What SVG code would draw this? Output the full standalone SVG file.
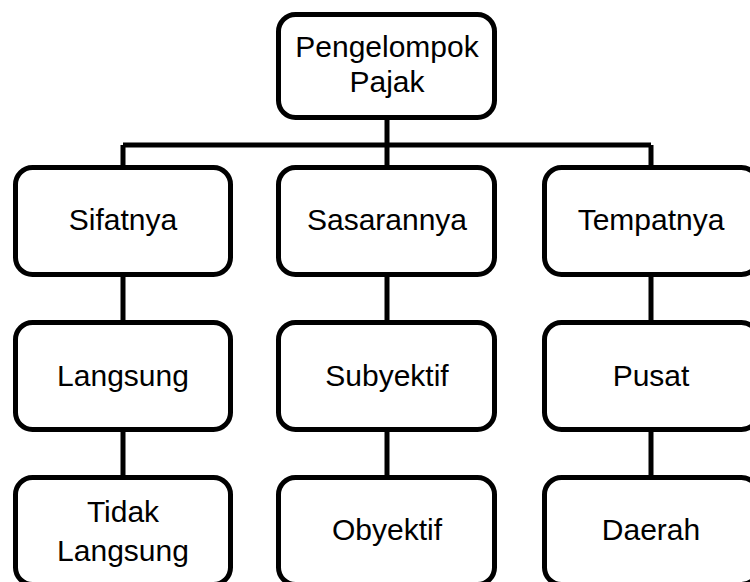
<svg xmlns="http://www.w3.org/2000/svg" width="750" height="582" viewBox="0 0 750 582">
<style>
.box{fill:#fff;stroke:#000;stroke-width:5}
.lbl{font-family:"Liberation Sans",Arial,sans-serif;font-size:30px;fill:#000;text-anchor:middle}
.conn{stroke:#000;stroke-width:5;fill:none;stroke-linecap:butt}
</style>
<rect width="750" height="582" fill="#fff"/>
<g id="connectors">
<path class="conn" d="M387 118 V145 M123 145 H651 M123 145 V168 M387 145 V168 M651 145 V168"/>
<path class="conn" d="M123 274 V323 M387 274 V323 M651 274 V323"/>
<path class="conn" d="M123 429 V478 M387 429 V478 M651 429 V478"/>
</g>
<g id="n-root"><rect class="box" x="278.5" y="14.5" width="216" height="103" rx="17"/><text class="lbl" x="387" y="57">Pengelompok</text><text class="lbl" x="387" y="92">Pajak</text></g>
<g id="n-sifat"><rect class="box" x="15.5" y="167.5" width="215" height="107" rx="17"/><text class="lbl" x="123" y="230">Sifatnya</text></g>
<g id="n-sasaran"><rect class="box" x="278.5" y="167.5" width="216" height="107" rx="17"/><text class="lbl" x="387" y="230">Sasarannya</text></g>
<g id="n-tempat"><rect class="box" x="544.5" y="167.5" width="214" height="107" rx="17"/><text class="lbl" x="651" y="230">Tempatnya</text></g>
<g id="n-langsung"><rect class="box" x="15.5" y="322.5" width="215" height="107" rx="17"/><text class="lbl" x="123" y="386">Langsung</text></g>
<g id="n-subyektif"><rect class="box" x="278.5" y="322.5" width="216" height="107" rx="17"/><text class="lbl" x="387" y="386">Subyektif</text></g>
<g id="n-pusat"><rect class="box" x="544.5" y="322.5" width="214" height="107" rx="17"/><text class="lbl" x="651" y="386">Pusat</text></g>
<g id="n-tidak"><rect class="box" x="15.5" y="477.5" width="215" height="107" rx="17"/><text class="lbl" x="123" y="522">Tidak</text><text class="lbl" x="123" y="561">Langsung</text></g>
<g id="n-obyektif"><rect class="box" x="278.5" y="477.5" width="216" height="107" rx="17"/><text class="lbl" x="387" y="540">Obyektif</text></g>
<g id="n-daerah"><rect class="box" x="544.5" y="477.5" width="214" height="107" rx="17"/><text class="lbl" x="651" y="540">Daerah</text></g>
</svg>
